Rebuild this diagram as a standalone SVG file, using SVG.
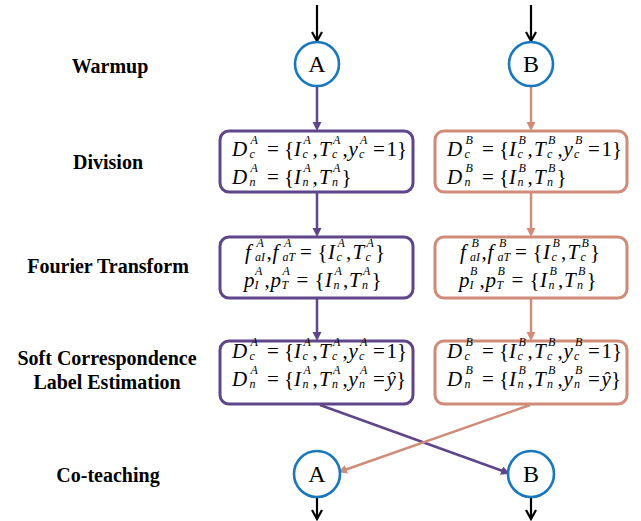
<svg xmlns="http://www.w3.org/2000/svg" width="641" height="521" viewBox="0 0 641 521" font-family="Liberation Serif, serif">
<style>
.lbl{font-family:'Liberation Serif',serif;font-weight:bold;font-size:20px;fill:#000;text-anchor:middle}
.m{font-family:'Liberation Serif',serif;font-size:21px;fill:#000}
.i{font-style:italic}
.s{font-size:12px}
.circ{fill:#fff;stroke:#1877BD;stroke-width:2.6}
.ct{font-family:'Liberation Serif',serif;font-size:24px;fill:#000;text-anchor:middle}
.boxA{fill:#fff;stroke:#5F4589;stroke-width:3}
.boxB{fill:#fff;stroke:#D08C78;stroke-width:3}
.lA{stroke:#5F4589;stroke-width:2.5;fill:none}
.lB{stroke:#D08C78;stroke-width:2.5;fill:none}
.lK{stroke:#000;stroke-width:2.2;fill:none}
</style>
<defs>
<marker id="mA" markerUnits="userSpaceOnUse" markerWidth="10" markerHeight="10" refX="2" refY="4.5" orient="auto" viewBox="0 0 10 10"><path d="M0,0 L9,4.5 L0,9 z" fill="#5F4589"/></marker>
<marker id="mB" markerUnits="userSpaceOnUse" markerWidth="10" markerHeight="10" refX="2" refY="4.5" orient="auto" viewBox="0 0 10 10"><path d="M0,0 L9,4.5 L0,9 z" fill="#D08C78"/></marker>
<marker id="mK" markerUnits="userSpaceOnUse" markerWidth="14" markerHeight="14" refX="10" refY="6" orient="auto" viewBox="0 0 14 14"><path d="M1,1 L10,6 L1,11" fill="none" stroke="#000" stroke-width="2.2"/></marker>
</defs>

<g id="labels">
<text class="lbl" x="110" y="73">Warmup</text>
<text class="lbl" x="108" y="169">Division</text>
<text class="lbl" x="108" y="273">Fourier Transform</text>
<text class="lbl" x="107" y="365">Soft Correspondence</text>
<text class="lbl" x="107" y="389">Label Estimation</text>
<text class="lbl" x="108" y="482">Co-teaching</text>
</g>

<g id="connectors">
<line class="lK" x1="317" y1="5" x2="317" y2="41" marker-end="url(#mK)"/>
<line class="lK" x1="531" y1="5" x2="531" y2="41" marker-end="url(#mK)"/>
<line class="lA" x1="317" y1="87" x2="317" y2="124" marker-end="url(#mA)"/>
<line class="lA" x1="317" y1="192" x2="317" y2="230" marker-end="url(#mA)"/>
<line class="lA" x1="317" y1="298" x2="317" y2="334" marker-end="url(#mA)"/>
<line class="lB" x1="531" y1="87" x2="531" y2="124" marker-end="url(#mB)"/>
<line class="lB" x1="531" y1="192" x2="531" y2="230" marker-end="url(#mB)"/>
<line class="lB" x1="531" y1="298" x2="531" y2="334" marker-end="url(#mB)"/>
<line class="lA" x1="320" y1="405" x2="503.4" y2="471.3" marker-end="url(#mA)"/>
<line class="lB" x1="530" y1="405" x2="344.6" y2="470" marker-end="url(#mB)"/>
<line class="lK" x1="317" y1="497" x2="317" y2="519" marker-end="url(#mK)"/>
<line class="lK" x1="531" y1="497" x2="531" y2="519" marker-end="url(#mK)"/>
</g>

<g id="nodeA1"><circle class="circ" cx="317" cy="64" r="22"/><text class="ct" x="317" y="72">A</text></g>
<g id="nodeB1"><circle class="circ" cx="531" cy="64" r="22"/><text class="ct" x="531" y="72">B</text></g>
<g id="nodeA2"><circle class="circ" cx="317" cy="474" r="23"/><text class="ct" x="317" y="482">A</text></g>
<g id="nodeB2"><circle class="circ" cx="531" cy="474" r="23"/><text class="ct" x="531" y="482">B</text></g>

<g id="divA">
<rect class="boxA" x="220" y="131" width="193" height="61" rx="9"/>
<text class="m" transform="translate(232,156)"><tspan class="i" x="0" y="0">D</tspan><tspan class="s i" x="17.5" y="2">c</tspan><tspan class="s i" x="18.5" y="-12">A</tspan><tspan x="35" y="0">=</tspan><tspan x="52" y="0">{</tspan><tspan class="i" x="62" y="0">I</tspan><tspan class="s i" x="70.5" y="2">c</tspan><tspan class="s i" x="71.5" y="-12">A</tspan><tspan x="80.5" y="0">,</tspan><tspan class="i" x="87" y="0">T</tspan><tspan class="s i" x="100" y="2">c</tspan><tspan class="s i" x="101" y="-12">A</tspan><tspan x="110.5" y="0">,</tspan><tspan class="i" x="116.5" y="0">y</tspan><tspan class="s i" x="127" y="2">c</tspan><tspan class="s i" x="128" y="-12">A</tspan><tspan x="141" y="0">=</tspan><tspan x="154.5" y="0">1}</tspan></text>
<text class="m" transform="translate(232,184)"><tspan class="i" x="0" y="0">D</tspan><tspan class="s i" x="17.5" y="2">n</tspan><tspan class="s i" x="18.5" y="-12">A</tspan><tspan x="35" y="0">=</tspan><tspan x="52" y="0">{</tspan><tspan class="i" x="62" y="0">I</tspan><tspan class="s i" x="70.5" y="2">n</tspan><tspan class="s i" x="71.5" y="-12">A</tspan><tspan x="80.5" y="0">,</tspan><tspan class="i" x="87" y="0">T</tspan><tspan class="s i" x="100" y="2">n</tspan><tspan class="s i" x="101" y="-12">A</tspan><tspan x="109.5" y="0">}</tspan></text>
</g>

<g id="divB">
<rect class="boxB" x="435" y="131" width="192" height="61" rx="9"/>
<text class="m" transform="translate(447,156)"><tspan class="i" x="0" y="0">D</tspan><tspan class="s i" x="17.5" y="2">c</tspan><tspan class="s i" x="18.5" y="-12">B</tspan><tspan x="35" y="0">=</tspan><tspan x="52" y="0">{</tspan><tspan class="i" x="62" y="0">I</tspan><tspan class="s i" x="70.5" y="2">c</tspan><tspan class="s i" x="71.5" y="-12">B</tspan><tspan x="80.5" y="0">,</tspan><tspan class="i" x="87" y="0">T</tspan><tspan class="s i" x="100" y="2">c</tspan><tspan class="s i" x="101" y="-12">B</tspan><tspan x="110.5" y="0">,</tspan><tspan class="i" x="116.5" y="0">y</tspan><tspan class="s i" x="127" y="2">c</tspan><tspan class="s i" x="128" y="-12">B</tspan><tspan x="141" y="0">=</tspan><tspan x="154.5" y="0">1}</tspan></text>
<text class="m" transform="translate(447,184)"><tspan class="i" x="0" y="0">D</tspan><tspan class="s i" x="17.5" y="2">n</tspan><tspan class="s i" x="18.5" y="-12">B</tspan><tspan x="35" y="0">=</tspan><tspan x="52" y="0">{</tspan><tspan class="i" x="62" y="0">I</tspan><tspan class="s i" x="70.5" y="2">n</tspan><tspan class="s i" x="71.5" y="-12">B</tspan><tspan x="80.5" y="0">,</tspan><tspan class="i" x="87" y="0">T</tspan><tspan class="s i" x="100" y="2">n</tspan><tspan class="s i" x="101" y="-12">B</tspan><tspan x="109.5" y="0">}</tspan></text>
</g>

<g id="ftA">
<rect class="boxA" x="220" y="237" width="193" height="61" rx="9"/>
<text class="m" transform="translate(245,258.5)"><tspan class="i" x="0" y="0">f</tspan><tspan class="s i" x="10" y="2">aI</tspan><tspan class="s i" x="11.5" y="-12">A</tspan><tspan x="21.5" y="0">,</tspan><tspan class="i" x="27.5" y="0">f</tspan><tspan class="s i" x="37.5" y="2">aT</tspan><tspan class="s i" x="39" y="-12">A</tspan><tspan x="55" y="0">=</tspan><tspan x="72.5" y="0">{</tspan><tspan class="i" x="83" y="0">I</tspan><tspan class="s i" x="91.5" y="2">c</tspan><tspan class="s i" x="92.5" y="-12">A</tspan><tspan x="101" y="0">,</tspan><tspan class="i" x="107.5" y="0">T</tspan><tspan class="s i" x="120.5" y="2">c</tspan><tspan class="s i" x="121.5" y="-12">A</tspan><tspan x="130" y="0">}</tspan></text>
<text class="m" transform="translate(244,287)"><tspan class="i" x="0" y="0">p</tspan><tspan class="s i" x="10.5" y="2">I</tspan><tspan class="s i" x="11" y="-12">A</tspan><tspan x="20.5" y="0">,</tspan><tspan class="i" x="26.5" y="0">p</tspan><tspan class="s i" x="37.5" y="2">T</tspan><tspan class="s i" x="38.5" y="-12">A</tspan><tspan x="52.5" y="0">=</tspan><tspan x="70.5" y="0">{</tspan><tspan class="i" x="81" y="0">I</tspan><tspan class="s i" x="89.5" y="2">n</tspan><tspan class="s i" x="90.5" y="-12">A</tspan><tspan x="99" y="0">,</tspan><tspan class="i" x="105" y="0">T</tspan><tspan class="s i" x="118" y="2">n</tspan><tspan class="s i" x="119" y="-12">A</tspan><tspan x="127.5" y="0">}</tspan></text>
</g>

<g id="ftB">
<rect class="boxB" x="435" y="237" width="192" height="61" rx="9"/>
<text class="m" transform="translate(460,258.5)"><tspan class="i" x="0" y="0">f</tspan><tspan class="s i" x="10" y="2">aI</tspan><tspan class="s i" x="11.5" y="-12">B</tspan><tspan x="21.5" y="0">,</tspan><tspan class="i" x="27.5" y="0">f</tspan><tspan class="s i" x="37.5" y="2">aT</tspan><tspan class="s i" x="39" y="-12">B</tspan><tspan x="55" y="0">=</tspan><tspan x="72.5" y="0">{</tspan><tspan class="i" x="83" y="0">I</tspan><tspan class="s i" x="91.5" y="2">c</tspan><tspan class="s i" x="92.5" y="-12">B</tspan><tspan x="101" y="0">,</tspan><tspan class="i" x="107.5" y="0">T</tspan><tspan class="s i" x="120.5" y="2">c</tspan><tspan class="s i" x="121.5" y="-12">B</tspan><tspan x="130" y="0">}</tspan></text>
<text class="m" transform="translate(459,287)"><tspan class="i" x="0" y="0">p</tspan><tspan class="s i" x="10.5" y="2">I</tspan><tspan class="s i" x="11" y="-12">B</tspan><tspan x="20.5" y="0">,</tspan><tspan class="i" x="26.5" y="0">p</tspan><tspan class="s i" x="37.5" y="2">T</tspan><tspan class="s i" x="38.5" y="-12">B</tspan><tspan x="52.5" y="0">=</tspan><tspan x="70.5" y="0">{</tspan><tspan class="i" x="81" y="0">I</tspan><tspan class="s i" x="89.5" y="2">n</tspan><tspan class="s i" x="90.5" y="-12">B</tspan><tspan x="99" y="0">,</tspan><tspan class="i" x="105" y="0">T</tspan><tspan class="s i" x="118" y="2">n</tspan><tspan class="s i" x="119" y="-12">B</tspan><tspan x="127.5" y="0">}</tspan></text>
</g>

<g id="sclA">
<rect class="boxA" x="220" y="341" width="193" height="63" rx="9"/>
<text class="m" transform="translate(232,357.5)"><tspan class="i" x="0" y="0">D</tspan><tspan class="s i" x="17.5" y="2">c</tspan><tspan class="s i" x="18.5" y="-12">A</tspan><tspan x="35" y="0">=</tspan><tspan x="52" y="0">{</tspan><tspan class="i" x="62" y="0">I</tspan><tspan class="s i" x="70.5" y="2">c</tspan><tspan class="s i" x="71.5" y="-12">A</tspan><tspan x="80.5" y="0">,</tspan><tspan class="i" x="87" y="0">T</tspan><tspan class="s i" x="100" y="2">c</tspan><tspan class="s i" x="101" y="-12">A</tspan><tspan x="110.5" y="0">,</tspan><tspan class="i" x="116.5" y="0">y</tspan><tspan class="s i" x="127" y="2">c</tspan><tspan class="s i" x="128" y="-12">A</tspan><tspan x="141" y="0">=</tspan><tspan x="154.5" y="0">1}</tspan></text>
<text class="m" transform="translate(232,386)"><tspan class="i" x="0" y="0">D</tspan><tspan class="s i" x="17.5" y="2">n</tspan><tspan class="s i" x="18.5" y="-12">A</tspan><tspan x="35" y="0">=</tspan><tspan x="52" y="0">{</tspan><tspan class="i" x="62" y="0">I</tspan><tspan class="s i" x="70.5" y="2">n</tspan><tspan class="s i" x="71.5" y="-12">A</tspan><tspan x="80.5" y="0">,</tspan><tspan class="i" x="87" y="0">T</tspan><tspan class="s i" x="100" y="2">n</tspan><tspan class="s i" x="101" y="-12">A</tspan><tspan x="110.5" y="0">,</tspan><tspan class="i" x="116.5" y="0">y</tspan><tspan class="s i" x="127" y="2">n</tspan><tspan class="s i" x="128" y="-12">A</tspan><tspan x="141" y="0">=</tspan><tspan class="i" x="154.5" y="0">ŷ</tspan><tspan x="164" y="0">}</tspan></text>
</g>

<g id="sclB">
<rect class="boxB" x="435" y="341" width="192" height="63" rx="9"/>
<text class="m" transform="translate(447,357.5)"><tspan class="i" x="0" y="0">D</tspan><tspan class="s i" x="17.5" y="2">c</tspan><tspan class="s i" x="18.5" y="-12">B</tspan><tspan x="35" y="0">=</tspan><tspan x="52" y="0">{</tspan><tspan class="i" x="62" y="0">I</tspan><tspan class="s i" x="70.5" y="2">c</tspan><tspan class="s i" x="71.5" y="-12">B</tspan><tspan x="80.5" y="0">,</tspan><tspan class="i" x="87" y="0">T</tspan><tspan class="s i" x="100" y="2">c</tspan><tspan class="s i" x="101" y="-12">B</tspan><tspan x="110.5" y="0">,</tspan><tspan class="i" x="116.5" y="0">y</tspan><tspan class="s i" x="127" y="2">c</tspan><tspan class="s i" x="128" y="-12">B</tspan><tspan x="141" y="0">=</tspan><tspan x="154.5" y="0">1}</tspan></text>
<text class="m" transform="translate(447,386)"><tspan class="i" x="0" y="0">D</tspan><tspan class="s i" x="17.5" y="2">n</tspan><tspan class="s i" x="18.5" y="-12">B</tspan><tspan x="35" y="0">=</tspan><tspan x="52" y="0">{</tspan><tspan class="i" x="62" y="0">I</tspan><tspan class="s i" x="70.5" y="2">n</tspan><tspan class="s i" x="71.5" y="-12">B</tspan><tspan x="80.5" y="0">,</tspan><tspan class="i" x="87" y="0">T</tspan><tspan class="s i" x="100" y="2">n</tspan><tspan class="s i" x="101" y="-12">B</tspan><tspan x="110.5" y="0">,</tspan><tspan class="i" x="116.5" y="0">y</tspan><tspan class="s i" x="127" y="2">n</tspan><tspan class="s i" x="128" y="-12">B</tspan><tspan x="141" y="0">=</tspan><tspan class="i" x="154.5" y="0">ŷ</tspan><tspan x="164" y="0">}</tspan></text>
</g>
</svg>
